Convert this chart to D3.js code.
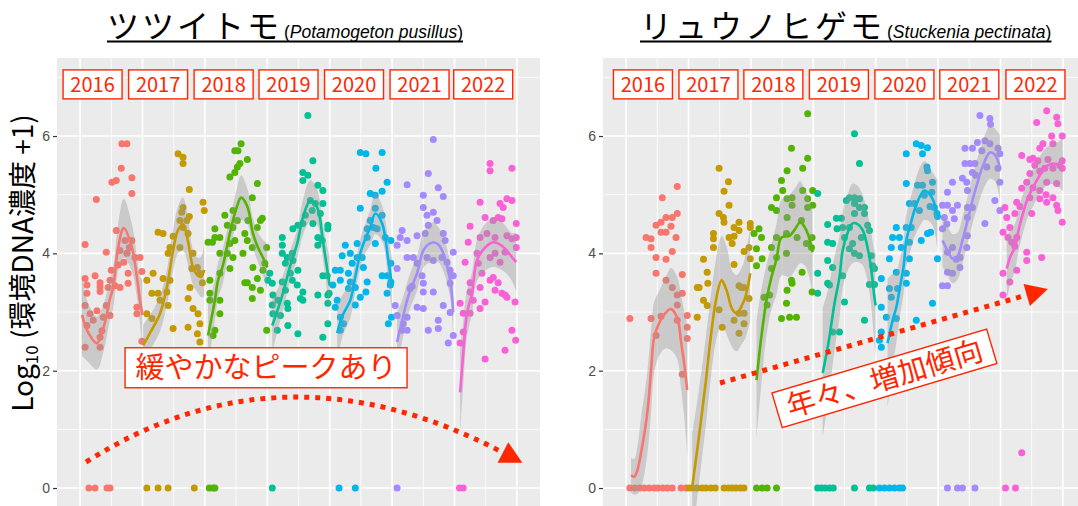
<!DOCTYPE html>
<html>
<head>
<meta charset="utf-8">
<script src="https://cdn.jsdelivr.net/npm/d3@7"></script>
<style>
  body { margin: 0; background: #fff; }
  svg { display: block; font-family: "Noto Sans CJK JP", "Noto Sans", sans-serif; }
</style>
</head>
<body>
<div id="chart"></div>
<script>
// Years (facets within each panel)
var years = [2016, 2017, 2018, 2019, 2020, 2021, 2022];
var yTicks = [0, 2, 4, 6];

// Points: [fraction of year, log10(eDNA + 1)]  -- ツツイトモ
var tsuPoints = [
  [[.08,4.15],[.08,3.57],[.11,3.32],[.24,3.62],[.26,4.92],[.32,3.5],[.32,3.35],[.42,4.02],[.50,3.71],[.51,5.21],[.58,5.24],[.66,5.45],[.67,5.87],[.75,5.87],[.83,5.29],[.83,5.02],[.58,4.39],[.72,4.22],[.75,4.0],[.79,4.1],[.83,4.22],[.88,3.93],[.96,3.93],[.99,3.69],[.61,3.8],[.48,3.54],[.77,3.66],[.64,4.05],[.70,3.85],[.11,3.46],[.32,3.43],[.45,3.42],[.64,3.42],[.77,3.49],[.08,3.11],[.16,2.97],[.27,3.02],[.21,2.86],[.37,2.91],[.48,2.94],[.11,2.77],[.35,2.68],[.08,2.4],[.32,2.4],[.56,3.45],[.91,3.08],[.91,2.97],[.99,2.5],[.42,3.11],[.32,2.57],[.14,0],[.24,0],[.43,0],[.48,0]],
  [[.25,4.36],[.33,4.34],[.17,3.66],[.33,3.57],[.49,4.29],[.41,4.0],[.44,4.1],[.57,5.7],[.65,5.64],[.65,5.53],[.75,5.09],[.65,4.78],[.63,4.7],[.71,4.56],[.60,4.56],[.75,4.63],[.65,4.44],[.60,4.1],[.73,4.34],[.81,4.0],[.97,4.87],[.99,4.73],[.79,3.74],[.88,3.76],[.92,3.66],[.76,3.42],[.96,3.5],[.25,3.32],[.39,3.34],[.07,3.54],[.15,3.32],[.07,2.97],[.15,2.89],[.28,3.2],[.41,3.11],[.49,2.72],[.73,2.74],[.81,3.06],[.89,2.97],[.92,2.8],[.92,2.49],[.88,2.63],[.73,3.23],[.44,3.54],[.07,0],[.25,0],[.41,0],[.83,0]],
  [[.05,4.19],[.12,4.19],[.16,4.27],[.24,4.27],[.16,4.42],[.08,3.54],[.08,3.32],[.24,3.66],[.32,4.65],[.40,5.3],[.45,4.73],[.48,5.38],[.52,5.47],[.48,5.75],[.53,5.75],[.58,5.87],[.68,5.6],[.56,5.53],[.36,4.48],[.45,4.44],[.52,4.56],[.48,4.22],[.40,4.17],[.24,4.0],[.36,4.0],[.45,3.93],[.40,3.74],[.64,4.34],[.68,4.22],[.61,4.0],[.76,4.1],[.76,4.95],[.84,5.19],[.92,4.6],[.89,4.56],[.84,4.44],[.69,4.56],[.99,4.1],[.96,3.83],[.68,3.5],[.84,3.57],[.77,3.76],[.93,3.71],[.89,3.37],[.76,3.42],[.08,3.2],[.24,3.2],[.24,2.97],[.16,2.69],[.13,2.6],[.64,3.5],[.76,3.23],[.99,2.69],[.07,0],[.13,0],[.16,0]],
  [[.65,6.35],[.73,5.58],[.57,5.38],[.65,5.33],[.57,5.24],[.81,5.16],[.89,5.07],[.69,4.9],[.77,4.85],[.89,4.85],[.72,4.73],[.61,4.65],[.85,4.68],[.57,4.51],[.73,4.51],[.41,4.42],[.49,4.48],[.97,4.48],[.97,4.42],[.81,4.27],[.88,4.22],[.81,4.14],[.24,4.27],[.24,4.14],[.24,4.0],[.40,4.0],[.32,3.93],[.41,3.88],[.29,3.83],[.49,3.71],[.37,3.66],[.89,3.62],[.96,3.62],[.04,3.66],[.01,3.54],[.08,3.49],[.24,3.51],[.40,3.54],[.29,3.37],[.57,3.34],[.53,3.23],[.99,3.32],[.09,3.29],[.08,3.12],[.17,3.2],[.09,2.97],[.21,2.94],[.32,3.15],[.33,3.06],[.48,3.46],[.57,3.2],[.33,2.77],[.16,2.69],[.49,2.63],[.81,3.29],[.97,3.29],[.97,3.15],[.97,2.8],[.89,2.57],[.08,0]],
  [[.49,5.72],[.58,5.7],[.84,5.72],[.74,5.45],[.92,5.21],[.84,5.06],[.65,5.02],[.73,4.99],[.49,4.77],[.73,4.77],[.84,4.65],[.65,4.56],[.70,4.44],[.60,4.42],[.76,4.42],[.60,4.27],[.89,4.27],[.98,4.22],[.44,4.17],[.25,4.14],[.73,4.17],[.33,4.0],[.20,3.96],[.36,3.83],[.44,3.93],[.52,3.93],[.54,3.76],[.30,3.66],[.98,3.83],[.17,3.71],[.09,3.71],[.17,3.54],[.33,3.51],[.41,3.42],[.60,3.51],[.84,3.62],[.92,3.62],[.98,3.51],[.58,3.34],[.92,3.32],[.05,3.46],[.30,3.4],[.49,3.25],[.41,3.12],[.12,3.2],[.09,3.08],[.17,2.91],[.22,2.8],[.17,2.69],[.94,2.8],[.99,2.91],[.97,3.46],[.15,0],[.41,0]],
  [[.66,5.94],[.58,5.36],[.74,5.12],[.82,4.97],[.24,5.17],[.50,4.99],[.50,4.78],[.66,4.7],[.56,4.65],[.72,4.56],[.58,4.48],[.16,4.39],[.13,4.27],[.08,4.14],[.24,4.22],[.40,4.3],[.53,4.34],[.82,4.34],[.85,4.22],[.98,4.02],[.24,3.93],[.34,3.93],[.40,3.83],[.56,3.93],[.66,3.88],[.80,3.93],[.88,3.85],[.08,3.74],[.48,3.62],[.93,3.71],[.98,3.62],[.50,3.49],[.32,3.44],[.66,3.34],[.50,3.34],[.93,3.49],[.29,3.4],[.40,3.08],[.50,3.06],[.24,2.91],[.18,2.8],[.24,2.69],[.16,2.69],[.58,2.69],[.74,2.86],[.74,2.72],[.82,3.11],[.93,2.99],[.98,2.6],[.90,2.47],[.08,2.94],[.05,3.11],[.08,0]],
  [[.57,5.53],[.57,5.41],[.92,5.45],[.41,4.87],[.73,4.85],[.84,4.93],[.92,4.9],[.78,4.78],[.49,4.61],[.70,4.61],[.62,4.56],[.76,4.59],[.25,4.46],[.99,4.51],[.52,4.34],[.65,4.27],[.84,4.3],[.92,4.25],[.41,4.27],[.22,4.19],[.99,4.27],[.99,4.1],[.36,4.0],[.65,4.0],[.81,4.02],[.57,3.93],[.38,3.83],[.73,3.85],[.17,3.85],[.44,3.66],[.62,3.59],[.25,3.5],[.57,3.54],[.70,3.5],[.41,3.42],[.65,3.37],[.76,3.32],[.81,3.29],[.25,3.34],[.09,3.15],[.14,2.98],[.25,2.98],[.30,3.2],[.41,3.06],[.49,3.17],[.84,3.25],[.97,3.17],[.09,2.47],[.14,2.66],[.49,2.2],[.81,2.35],[.92,2.69],[.98,2.52],[.08,0],[.14,0]]
];

// Points -- リュウノヒゲモ
var ryuPoints = [
  [[.82,5.14],[.58,4.95],[.48,4.48],[.56,4.53],[.64,4.61],[.74,4.61],[.82,4.68],[.56,4.36],[.64,4.36],[.72,4.46],[.32,4.27],[.40,4.25],[.80,4.27],[.40,4.1],[.74,4.03],[.48,3.93],[.64,3.9],[.48,3.66],[.90,3.64],[.64,3.54],[.74,3.42],[.82,3.29],[.90,3.32],[.82,3.12],[.06,2.89],[.40,2.89],[.56,2.93],[.48,2.6],[.82,2.86],[.98,2.94],[.98,2.74],[.98,2.55],[.90,1.94],[.06,0],[.14,0],[.22,0],[.29,0],[.37,0],[.45,0],[.51,0],[.59,0],[.66,0],[.74,0],[.88,0],[.96,0]],
  [[.49,5.45],[.64,5.22],[.57,5.06],[.65,4.82],[.49,4.68],[.56,4.61],[.57,4.53],[.73,4.44],[.81,4.53],[.81,4.39],[.99,4.51],[.99,4.44],[.40,4.34],[.40,4.25],[.40,4.1],[.65,4.27],[.70,4.17],[.73,4.29],[.24,3.9],[.89,4.03],[.97,4.1],[.99,3.91],[.30,3.68],[.17,3.42],[.31,3.49],[.73,3.81],[.81,3.45],[.89,3.42],[.14,3.42],[.24,3.2],[.30,3.11],[.14,2.91],[.49,3.04],[.54,2.74],[.73,2.86],[.81,2.98],[.89,2.98],[.81,2.64],[.89,2.8],[.85,3.42],[.97,3.23],[.01,0],[.07,0],[.14,0],[.22,0],[.28,0],[.36,0],[.43,0],[.57,0],[.64,0],[.70,0],[.76,0],[.83,0],[.89,0]],
  [[.91,6.38],[.65,5.79],[.91,5.62],[.58,5.41],[.83,5.45],[.49,5.24],[.51,5.07],[.41,4.95],[.58,4.93],[.66,4.95],[.83,5.07],[.91,4.93],[.99,5.07],[.33,4.78],[.41,4.73],[.66,4.82],[.99,4.82],[.91,4.78],[.58,4.61],[.81,4.56],[.13,4.42],[.17,4.27],[.05,4.34],[.41,4.27],[.57,4.34],[.74,4.27],[.98,4.27],[.33,4.1],[.09,4.08],[.89,4.17],[.97,4.1],[.41,3.93],[.18,3.91],[.57,4.0],[.09,3.79],[.33,3.74],[.82,3.68],[.65,3.54],[.58,3.37],[.98,3.34],[.21,3.25],[.30,3.29],[.26,3.12],[.57,3.15],[.66,3.49],[.49,2.89],[.62,2.91],[.73,2.91],[.09,0],[.18,0],[.26,0],[.41,0]],
  [[.66,6.04],[.74,5.53],[.07,5.02],[.58,4.95],[.66,4.95],[.74,4.93],[.53,4.9],[.74,4.78],[.82,4.78],[.66,4.85],[.45,4.6],[.66,4.68],[.82,4.68],[.37,4.6],[.23,4.49],[.47,4.44],[.58,4.44],[.38,4.42],[.87,4.48],[.90,4.39],[.50,4.27],[.77,4.27],[.23,4.19],[.31,4.17],[.63,4.17],[.58,4.08],[.66,4.0],[.93,3.96],[.74,3.96],[.23,3.88],[.31,3.76],[.95,3.79],[.98,3.74],[.07,3.66],[.47,3.62],[.23,3.49],[.07,3.32],[.26,3.46],[.50,3.17],[.31,2.66],[.42,2.66],[.82,2.86],[.90,3.47],[.98,3.47],[.07,0],[.13,0],[.19,0],[.26,0],[.32,0],[.66,0],[.90,0],[.96,0]],
  [[.65,5.87],[.73,5.84],[.83,5.8],[.49,5.7],[.75,5.7],[.82,5.47],[.83,5.41],[.49,5.19],[.67,5.16],[.75,5.16],[.91,5.21],[.78,4.99],[.90,5.04],[.54,4.85],[.62,4.85],[.94,4.78],[.98,4.68],[.87,4.8],[.99,4.63],[.70,4.73],[.33,4.44],[.49,4.44],[.57,4.44],[.27,4.27],[.38,4.27],[.54,4.19],[.41,4.1],[.25,4.1],[.83,4.34],[.88,4.36],[.73,4.22],[.22,3.91],[.54,3.91],[.49,3.66],[.33,3.68],[.99,3.91],[.09,3.57],[.22,3.4],[.35,3.4],[.09,3.08],[.25,3.25],[.17,2.91],[.09,2.66],[.06,2.52],[.09,2.4],[.49,3.49],[.91,3.15],[.65,2.86],[.33,2.89],[.06,0],[.14,0],[.22,0],[.30,0],[.38,0],[.43,0]],
  [[.67,6.35],[.83,6.3],[.84,6.2],[.75,5.92],[.63,5.89],[.83,5.87],[.43,5.79],[.55,5.79],[.70,5.75],[.96,5.79],[.99,5.7],[.51,5.53],[.43,5.53],[.59,5.53],[.78,5.47],[.96,5.45],[.55,5.38],[.60,5.33],[.23,5.21],[.39,5.28],[.46,5.21],[.15,5.04],[.47,5.07],[.99,5.21],[.91,4.9],[.99,4.73],[.07,4.82],[.15,4.82],[.31,4.82],[.47,4.78],[.55,4.78],[.23,4.73],[.10,4.61],[.26,4.59],[.47,4.61],[.14,4.5],[.07,4.42],[.47,4.3],[.75,4.51],[.46,4.1],[.23,4.1],[.35,3.93],[.15,4.02],[.29,3.9],[.15,3.68],[.23,3.66],[.35,3.76],[.07,3.45],[.15,3.45],[.15,0],[.31,0],[.39,0],[.59,0]],
  [[.74,6.43],[.58,6.23],[.90,6.32],[.92,6.21],[.82,6.0],[.99,6.0],[.68,5.87],[.63,5.79],[.84,5.87],[.34,5.67],[.52,5.62],[.60,5.58],[.47,5.6],[.76,5.6],[.99,5.58],[.55,5.5],[.84,5.45],[.95,5.5],[.71,5.45],[.99,5.45],[.47,5.36],[.63,5.4],[.42,5.21],[.52,5.12],[.74,5.21],[.90,5.19],[.34,5.11],[.63,5.07],[.47,4.95],[.73,5.0],[.84,4.95],[.63,4.93],[.74,4.87],[.90,4.82],[.26,4.87],[.31,4.8],[.07,4.78],[.92,4.73],[.23,4.68],[.50,4.68],[.10,4.61],[.99,4.53],[.15,4.44],[.04,4.36],[.12,4.27],[.26,4.27],[.18,4.19],[.23,4.12],[.42,4.02],[.66,3.93],[.42,3.88],[.04,3.66],[.26,3.71],[.15,3.51],[.04,3.29],[.34,0.6],[.08,0],[.24,0]]
];

// Smoothed trend per year: [fraction of year, fit, half width of band]
var tsuFit = [
  [[.03,2.95,.7],[.13,2.65,.5],[.27,2.47,.45],[.38,2.75,.4],[.48,3.23,.35],[.53,3.42,.35],[.61,4.1,.4],[.70,4.43,.5],[.83,4.1,.4],[.91,3.6,.35],[.96,3.2,.4],[1.0,2.95,.6]],
  [[.01,2.43,.35],[.15,2.7,.3],[.28,2.97,.3],[.39,3.42,.3],[.49,4.05,.35],[.57,4.4,.4],[.65,4.5,.45],[.73,4.2,.4],[.81,3.76,.3],[.89,3.62,.3],[.94,3.6,.35],[.99,3.72,.45]],
  [[.05,2.6,.5],[.16,3.2,.35],[.21,3.54,.3],[.28,3.76,.3],[.40,4.34,.25],[.50,4.75,.3],[.58,4.95,.38],[.68,4.8,.3],[.77,4.34,.25],[.85,4.1,.25],[.93,3.93,.3],[1.0,3.76,.4]],
  [[.08,2.77,.45],[.17,3.05,.35],[.25,3.32,.3],[.37,3.8,.25],[.48,4.17,.25],[.57,4.61,.3],[.69,4.9,.35],[.80,4.78,.3],[.89,4.22,.3],[.97,3.66,.4],[1.0,3.45,.5]],
  [[.12,2.64,.5],[.21,2.95,.35],[.33,3.2,.3],[.41,3.6,.25],[.49,4.0,.25],[.57,4.25,.25],[.65,4.44,.3],[.73,4.68,.35],[.84,4.51,.3],[.94,3.88,.35],[1.0,3.42,.5]],
  [[.08,2.49,.5],[.16,2.85,.35],[.24,3.2,.3],[.32,3.45,.3],[.40,3.66,.3],[.50,4.05,.3],[.58,4.15,.32],[.66,4.19,.34],[.74,4.15,.3],[.82,4.0,.3],[.93,3.54,.3],[.98,3.0,.45]],
  [[.09,1.63,.7],[.14,2.3,.55],[.20,2.98,.4],[.28,3.32,.35],[.36,3.88,.35],[.49,4.1,.4],[.62,4.19,.42],[.73,4.15,.42],[.81,4.08,.4],[.91,3.95,.4],[.99,3.85,.5]]
];

var ryuFit = [
  [[.08,.22,.3],[.13,.19,.3],[.18,.3,.4],[.24,.6,.6],[.34,1.28,.7],[.40,2.0,.7],[.45,2.57,.6],[.53,2.81,.55],[.63,2.98,.6],[.72,3.05,.7],[.82,2.9,.7],[.88,2.5,.8],[.93,2.13,.9],[.98,1.67,1.1]],
  [[.06,.02,.9],[.17,.9,.8],[.28,1.84,.75],[.36,2.6,.7],[.44,3.2,.7],[.53,3.54,.75],[.61,3.37,.75],[.70,3.05,.65],[.77,2.98,.65],[.85,3.1,.65],[.91,3.25,.7],[.99,3.66,.8]],
  [[.09,1.84,1.0],[.17,2.6,.8],[.25,3.2,.6],[.33,3.6,.55],[.41,3.9,.6],[.49,4.27,.65],[.62,4.3,.7],[.70,4.4,.7],[.79,4.53,.7],[.86,4.45,.65],[.91,4.34,.65],[.99,4.02,.7]],
  [[.15,1.96,1.1],[.24,2.45,.95],[.34,3.15,.8],[.42,3.6,.7],[.47,4.05,.65],[.55,4.35,.65],[.63,4.51,.68],[.71,4.5,.65],[.79,4.4,.6],[.90,3.93,.6],[.98,3.25,.8],[1.0,3.11,.9]],
  [[.19,2.47,1.1],[.27,2.85,.8],[.33,3.08,.6],[.38,3.37,.5],[.45,3.8,.45],[.49,4.22,.45],[.56,4.5,.45],[.62,4.73,.45],[.70,4.95,.5],[.78,5.07,.5],[.90,4.95,.45],[.99,4.65,.6]],
  [[.07,4.22,.45],[.15,4.05,.42],[.23,3.91,.42],[.31,3.95,.4],[.39,4.22,.4],[.47,4.55,.4],[.55,4.9,.4],[.63,5.2,.42],[.71,5.47,.42],[.83,5.72,.45],[.91,5.68,.45],[.99,5.47,.55]],
  [[.10,3.74,.55],[.16,3.95,.45],[.23,4.1,.4],[.29,4.4,.35],[.36,4.68,.33],[.44,4.95,.32],[.52,5.12,.32],[.60,5.28,.32],[.68,5.41,.32],[.76,5.5,.33],[.84,5.53,.35],[.92,5.52,.38],[1.0,5.51,.45]]
];

// Year label positions (in years) and height (in axis units)
var tsuLabelX = [2016.2, 2017.25, 2018.3, 2019.34, 2020.39, 2021.44, 2022.46];
var ryuLabelX = [2016.27, 2017.32, 2018.36, 2019.41, 2020.46, 2021.5, 2022.56];
var labelY = 6.88;

// ggplot default hue palette for 7 groups
var colors = ["#F8766D", "#C49A00", "#53B400", "#00C094", "#00B6EB", "#A58AFF", "#FB61D7"];
var red = "#FF2600";

var svgWidth = 1078;
var svgHeight = 506;
var panelWidth = 483;
var panelTop = 58;
var panelBottom = 520;

var svg = d3.select("#chart")
  .append("svg")
  .attr("width", svgWidth)
  .attr("height", svgHeight);

var defs = svg.append("defs");
defs.append("marker")
  .attr("id", "arrowHead")
  .attr("markerUnits", "userSpaceOnUse")
  .attr("markerWidth", 24)
  .attr("markerHeight", 24)
  .attr("viewBox", "0 0 22 24")
  .attr("refX", 0)
  .attr("refY", 12)
  .attr("orient", "auto")
  .append("path")
  .attr("d", "M0,0.5 L22,12 L0,23.5 Z")
  .attr("fill", red);

// shared y scale
var yScale = d3.scaleLinear().domain([-0.545, 7.33]).range([panelBottom, panelTop]);

function drawPanel(left, points, fits, labelX, id) {
  var xScale = d3.scaleLinear().domain([2015.63, 2023.37]).range([left, left + panelWidth]);

  defs.append("clipPath").attr("id", "clip" + id)
    .append("rect")
    .attr("x", left).attr("y", panelTop)
    .attr("width", panelWidth).attr("height", panelBottom - panelTop);

  var g = svg.append("g");

  g.append("rect")
    .attr("x", left).attr("y", panelTop)
    .attr("width", panelWidth).attr("height", panelBottom - panelTop)
    .attr("fill", "#EBEBEB");

  var grid = g.append("g").attr("clip-path", `url(#clip${id})`);

  // minor grid
  grid.selectAll(".vminor").data(d3.range(2015.5, 2024, 1)).enter().append("line")
    .attr("x1", d => xScale(d)).attr("x2", d => xScale(d))
    .attr("y1", panelTop).attr("y2", panelBottom)
    .attr("stroke", "#fff").attr("stroke-width", 0.8);
  grid.selectAll(".hminor").data([-1, 1, 3, 5, 7]).enter().append("line")
    .attr("x1", left).attr("x2", left + panelWidth)
    .attr("y1", d => yScale(d)).attr("y2", d => yScale(d))
    .attr("stroke", "#fff").attr("stroke-width", 0.8);

  // major grid
  grid.selectAll(".vmajor").data(d3.range(2016, 2024)).enter().append("line")
    .attr("x1", d => xScale(d)).attr("x2", d => xScale(d))
    .attr("y1", panelTop).attr("y2", panelBottom)
    .attr("stroke", "#fff").attr("stroke-width", 1.6);
  grid.selectAll(".hmajor").data(yTicks).enter().append("line")
    .attr("x1", left).attr("x2", left + panelWidth)
    .attr("y1", d => yScale(d)).attr("y2", d => yScale(d))
    .attr("stroke", "#fff").attr("stroke-width", 1.6);

  // y axis
  var yAxis = d3.axisLeft(yScale).tickValues(yTicks).tickSize(4).tickPadding(3);
  var ax = g.append("g")
    .attr("transform", `translate(${left}, 0)`)
    .call(yAxis);
  ax.select(".domain").remove();
  ax.selectAll("line").attr("stroke", "#333").attr("stroke-width", 1.2);
  ax.selectAll("text")
    .attr("fill", "#4D4D4D")
    .style("font-size", "14px")
    .style("font-family", "'Liberation Sans', Arial, sans-serif");

  var dataG = g.append("g").attr("clip-path", `url(#clip${id})`);

  // points
  years.forEach(function (yr, i) {
    dataG.append("g").selectAll("circle")
      .data(points[i])
      .enter()
      .append("circle")
      .attr("cx", d => xScale(yr + d[0]))
      .attr("cy", d => yScale(d[1]))
      .attr("r", 3.5)
      .attr("fill", colors[i]);
  });

  // smooth bands and lines
  years.forEach(function (yr, i) {
    var area = d3.area()
      .curve(d3.curveCatmullRom.alpha(0.5))
      .x(d => xScale(yr + d[0]))
      .y0(d => yScale(d[1] - d[2]))
      .y1(d => yScale(d[1] + d[2]));
    dataG.append("path")
      .datum(fits[i])
      .attr("d", area)
      .attr("fill", "#999999")
      .attr("opacity", 0.4);
  });
  years.forEach(function (yr, i) {
    var line = d3.line()
      .curve(d3.curveCatmullRom.alpha(0.5))
      .x(d => xScale(yr + d[0]))
      .y(d => yScale(d[1]));
    dataG.append("path")
      .datum(fits[i])
      .attr("d", line)
      .attr("fill", "none")
      .attr("stroke", colors[i])
      .attr("stroke-width", 2.6);
  });

  // year labels
  var labels = g.selectAll(".yearLabel")
    .data(years)
    .enter()
    .append("g")
    .attr("transform", (d, i) => `translate(${xScale(labelX[i])}, ${yScale(labelY)})`);
  labels.append("rect")
    .attr("x", -29.5).attr("y", -14.5)
    .attr("width", 59).attr("height", 29)
    .attr("fill", "#fff")
    .attr("stroke", red)
    .attr("stroke-width", 1.4);
  labels.append("text")
    .attr("text-anchor", "middle")
    .attr("dy", "0.36em")
    .style("font-size", "20px")
    .attr("fill", red)
    .text(d => d);

  return xScale;
}

var xTsu = drawPanel(57, tsuPoints, tsuFit, tsuLabelX, "L");
var xRyu = drawPanel(603, ryuPoints, ryuFit, ryuLabelX, "R");

// titles
function drawTitle(x, jp, latin) {
  var t = svg.append("text")
    .attr("x", x)
    .attr("y", 38)
    .attr("fill", "#000");
  t.append("tspan").style("font-size", "32px").style("letter-spacing", "3px").text(jp);
  t.append("tspan").style("font-size", "17.5px").attr("dx", 2)
    .style("font-family", "'Liberation Sans', Arial, sans-serif").text("(");
  t.append("tspan").style("font-size", "17.5px").style("font-style", "italic")
    .style("font-family", "'Liberation Sans', Arial, sans-serif").text(latin);
  t.append("tspan").style("font-size", "17.5px")
    .style("font-family", "'Liberation Sans', Arial, sans-serif").text(")");
  var bb = t.node().getBBox();
  svg.append("line")
    .attr("x1", bb.x).attr("x2", bb.x + bb.width)
    .attr("y1", 41.5).attr("y2", 41.5)
    .attr("stroke", "#000").attr("stroke-width", 2);
}
drawTitle(107, "ツツイトモ", "Potamogeton pusillus");
drawTitle(640, "リュウノヒゲモ", "Stuckenia pectinata");

// y axis title
var yTitle = svg.append("text")
  .attr("transform", "translate(33, 263) rotate(-90)")
  .attr("text-anchor", "middle")
  .style("font-size", "28px")
  .attr("fill", "#000");
yTitle.append("tspan").text("Log");
yTitle.append("tspan").style("font-size", "17px").attr("dy", 5).text("10");
yTitle.append("tspan").attr("dy", -5).text(" (環境DNA濃度 +1)");

// annotation: left panel
var leftArrow = d3.path();
leftArrow.moveTo(xTsu(2016.096), yScale(0.443));
leftArrow.quadraticCurveTo(xTsu(2019.236), yScale(2.574), xTsu(2022.776), yScale(0.605));
svg.append("path")
  .attr("d", leftArrow.toString())
  .attr("fill", "none")
  .attr("stroke", red)
  .attr("stroke-width", 5)
  .attr("stroke-dasharray", "5 6")
  .attr("marker-end", "url(#arrowHead)");

var noteL = svg.append("g")
  .attr("transform", `translate(${xTsu(2018.98)}, ${yScale(2.05)})`);
noteL.append("rect")
  .attr("x", -141).attr("y", -20)
  .attr("width", 282).attr("height", 40)
  .attr("fill", "#fff").attr("stroke", red).attr("stroke-width", 1.4);
noteL.append("text")
  .attr("text-anchor", "middle")
  .attr("dy", "0.36em")
  .style("font-size", "29px")
  .attr("fill", red)
  .text("緩やかなピークあり");

// annotation: right panel
svg.append("line")
  .attr("x1", xRyu(2017.505)).attr("y1", yScale(1.79))
  .attr("x2", xRyu(2022.42)).attr("y2", yScale(3.29))
  .attr("stroke", red)
  .attr("stroke-width", 5)
  .attr("stroke-dasharray", "5 6")
  .attr("marker-end", "url(#arrowHead)");

var noteR = svg.append("g")
  .attr("transform", `translate(${xRyu(2020.14)}, ${yScale(1.87)}) rotate(-16.6)`);
noteR.append("rect")
  .attr("x", -112).attr("y", -18)
  .attr("width", 224).attr("height", 36)
  .attr("fill", "#fff").attr("stroke", red).attr("stroke-width", 1.4);
noteR.append("text")
  .attr("text-anchor", "middle")
  .attr("dy", "0.36em")
  .style("font-size", "29px")
  .attr("fill", red)
  .text("年々、増加傾向");
</script>
</body>
</html>
